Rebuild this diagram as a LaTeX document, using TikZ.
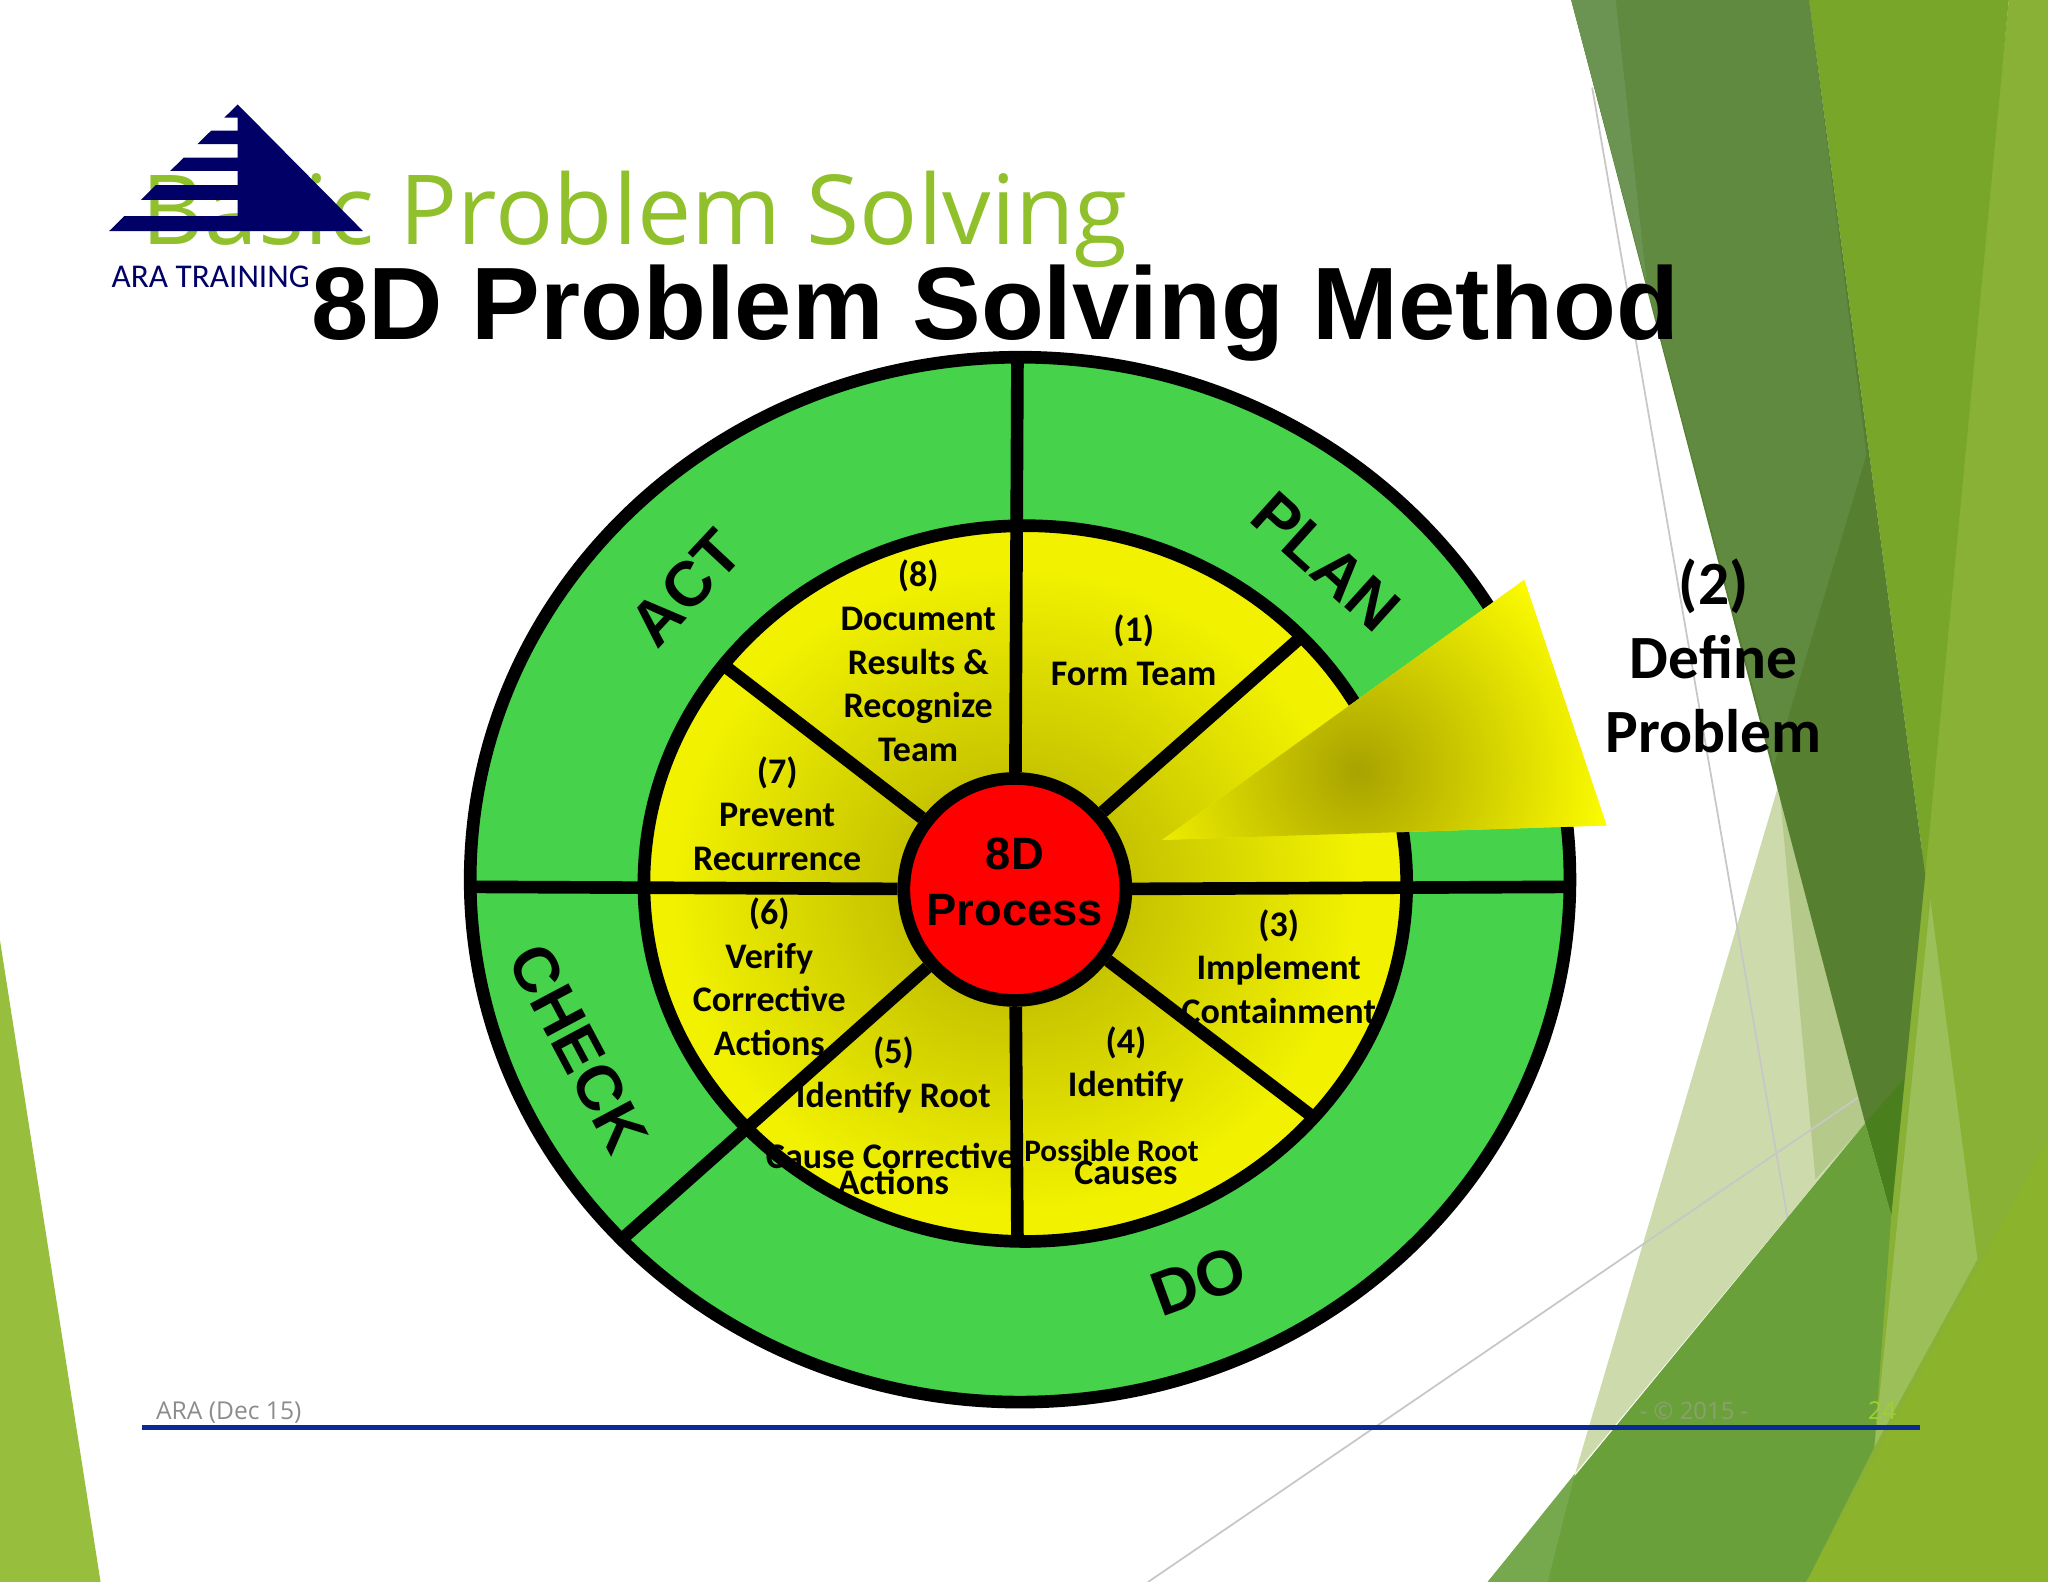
\documentclass[tikz,border=0pt]{standalone}
\usepackage{fontspec}
\setmainfont{Carlito}
\newfontfamily\arialfont{Liberation Sans}
\newfontfamily\headfont{Open Sans}
\usetikzlibrary{positioning}
\definecolor{ringgreen}{HTML}{46D24A}
\definecolor{discyellow}{HTML}{F2F200}
\definecolor{discolive}{HTML}{B0AC00}
\definecolor{logoblue}{HTML}{000066}
\definecolor{footblue}{HTML}{0A2A96}
\definecolor{headgreen}{HTML}{90C02C}
\definecolor{leftgreen}{HTML}{97BE3D}
\definecolor{palea}{HTML}{CDDAAC}
\definecolor{paleb}{HTML}{B5C98A}
\definecolor{lightband}{HTML}{88B135}
\definecolor{midband}{HTML}{78A628}
\definecolor{darkband}{HTML}{568030}
\definecolor{darkbandb}{HTML}{5F8A40}
\definecolor{darkbandc}{HTML}{6B9452}
\definecolor{deepband}{HTML}{4A7F1E}
\definecolor{softband}{HTML}{9DBF5A}
\definecolor{lowband}{HTML}{6AA03A}
\definecolor{lowbandb}{HTML}{76A84E}
\definecolor{cornerband}{HTML}{8BB32C}
\definecolor{footgrey}{HTML}{8AA070}
\definecolor{pagenum}{HTML}{A0D030}
\definecolor{wedgeolive}{HTML}{A8A300}
\tikzset{
	stagetext/.style={align=center,font=\bfseries\fontsize{10.25}{12.4}\selectfont,inner sep=0pt},
	phasetext/.style={font=\arialfont\bfseries\fontsize{18}{20}\selectfont,inner sep=0pt},
	spoke/.style={line width=3.6pt}
}
\begin{document}
\begin{tikzpicture}[x=.0130612cm,y=.0130612cm]
	\useasboundingbox (0,0) rectangle (1568,-1211.2);
	\fill[leftgreen] (0,-720)--(77,-1211.2)--(0,-1211.2)--cycle;
	\fill[palea] (1362,-600)--(1428,-860)--(1206,-1128)--cycle;
	\fill[paleb] (1362,-600)--(1428,-860)--(1390,-903)--cycle;
	\coordinate (La) at (1219,-67);
	\coordinate (Lb) at (1407,-1155);
	\coordinate (Lc) at (879,-1211.2);
	\coordinate (Ld) at (1423,-840);
	\draw[black!22,line width=.5pt] (La)--(Lb) (Lc)--(Ld);
	\fill[lightband] (1538,0)--(1568,0)--(1568,-1211.2)--(1383,-1211.2)--(1425,-1108)--(1440,-930)--(1470,-670)--cycle;
	\fill[midband] (1385,0)--(1538,0)--(1474,-670)--cycle;
	\fill[darkband] (1203,0)--(1385,0)--(1474,-670)--(1448,-930)--(1428,-860)--(1363,-612)--cycle;
	\fill[darkbandb] (1203,0)--(1385,0)--(1429,-348)--(1358,-586)--cycle;
	\fill[darkbandc] (1203,0)--(1237,0)--(1261,-219)--cycle;
	\fill[deepband] (1458,-826)--(1428,-860)--(1448,-930)--cycle;
	\fill[softband] (1478,-689)--(1514,-964)--(1435,-1108)--cycle;
	\fill[lowband] (1428,-860)--(1139,-1211.2)--(1383,-1211.2)--(1435,-1108)--(1448,-930)--cycle;
	\fill[lowbandb] (1206,-1128)--(1139,-1211.2)--(1185,-1211.2)--cycle;
	\fill[cornerband] (1383,-1211.2)--(1568,-872)--(1568,-1211.2)--cycle;
	\node[anchor=base west,inner sep=0pt,text=headgreen,font=\headfont\fontsize{27.5}{32}\selectfont] (head) at (108,-187) {Basic Problem Solving};
	\fill[logoblue] (182,-80)--(278,-177)--(83.5,-177)--(95.3,-165.4)--(182,-165.4)--(182,-153.1)
	--(107.8,-153.1)--(119.3,-141.7)--(182,-141.7)--(182,-130.9)--(130.3,-130.9)--(140.7,-120.7)
	--(182,-120.7)--(182,-110.3)--(151.2,-110.3)--(161.7,-100)--(182,-100)--(182,-90.1)--(171.7,-90.1)--cycle;
	\node[anchor=base west,inner sep=0pt,text=logoblue,font=\fontsize{9.45}{12}\selectfont] (logotext) at (85,-220) {ARA TRAINING};
	\node[anchor=base west,inner sep=0pt,font=\arialfont\bfseries\fontsize{29.3}{34}\selectfont] (title) at (238,-260) {8D Problem Solving Method};
	\coordinate (W) at (781,-673.5);
	\coordinate (D) at (785,-676.5);
	\filldraw[fill=ringgreen,spoke] (W) ellipse (421 and 400);
	\fill[discyellow] (D) ellipse (292 and 274);
	\begin{scope}
		\clip (D) ellipse (292 and 274);
		\shade[inner color=discolive,outer color=discyellow] (777,-681) ellipse (265 and 250);
	\end{scope}
	\draw[spoke] (D) ellipse (292 and 274);
	\node[circle,fill=red,draw,line width=3.6pt,minimum size=170*.0130612cm,inner sep=0pt] (hub) at (777,-681) {};
	\coordinate (Top) at (779,-274);
	\coordinate (Bot) at (779,-950);
	\coordinate (Lft) at (360,-679);
	\coordinate (Rgt) at (1203,-679);
	\coordinate (Sa) at (997,-487);
	\coordinate (Sb) at (1005,-855);
	\coordinate (Sc) at (555,-510);
	\coordinate (Sd) at (477,-948);
	\foreach \p in {Top,Bot,Lft,Rgt,Sa,Sb,Sc,Sd}
	\draw[spoke] (\p)--(hub);
	\node[align=center,inner sep=0pt,font=\arialfont\bfseries\fontsize{12.9}{16}\selectfont] (hubtext) at (777,-675) {8D\\Process};
	\node[stagetext] (s1) at (868,-498) {(1)\\Form Team};
	\node[stagetext] (s3) at (979,-740) {(3)\\Implement\\Containment};
	\node[stagetext] (s4) at (862,-815) {(4)\\Identify};
	\node[stagetext,font=\bfseries\fontsize{8.9}{11}\selectfont] (s4b) at (851,-881) {Possible Root};
	\node[stagetext] (s4c) at (862,-898) {Causes};
	\node[stagetext] (s5) at (684,-823) {(5)\\Identify Root};
	\node[stagetext] (s5b) at (682,-885) {Cause Corrective};
	\node[stagetext] (s5c) at (684,-905) {Actions};
	\node[stagetext] (s6) at (589,-748) {(6)\\Verify\\Corrective\\Actions};
	\node[stagetext] (s7) at (595,-623) {(7)\\Prevent\\Recurrence};
	\node[stagetext] (s8) at (703,-506) {(8)\\Document\\Results \&\\Recognize\\Team};
	\node[phasetext,rotate=-42] (plan) at (1015,-430) {PLAN};
	\node[phasetext,rotate=47] (act) at (525,-450) {ACT};
	\node[phasetext,rotate=-62] (check) at (443,-803) {CHECK};
	\node[phasetext,rotate=20] (do) at (918,-981) {DO};
	\begin{scope}
		\clip (1167,-444)--(1230,-632)--(890,-643)--cycle;
		\fill[yellow] (880,-430) rectangle (1240,-650);
		\shade[inner color=wedgeolive,outer color=yellow] (1040,-590) circle (200);
	\end{scope}
	\node[stagetext,font=\bfseries\fontsize{17.5}{21.1}\selectfont] (s2) at (1312,-502) {(2)\\Define\\Problem};
	\coordinate (Fa) at (109,-1093);
	\coordinate (Fb) at (1470,-1093);
	\draw[footblue,line width=1.4pt] (Fa)--(Fb);
	\node[anchor=base west,inner sep=0pt,text=black!45,font=\headfont\fontsize{7}{10}\selectfont] (footleft) at (119,-1087) {ARA (Dec 15)};
	\node[inner sep=0pt,text=footgrey,font=\headfont\fontsize{6.8}{10}\selectfont] (footmid) at (1297,-1080) {- © 2015 -};
	\node[inner sep=0pt,text=pagenum,font=\headfont\fontsize{7}{10}\selectfont] (footnum) at (1441,-1080) {24};
\end{tikzpicture}
\end{document}
